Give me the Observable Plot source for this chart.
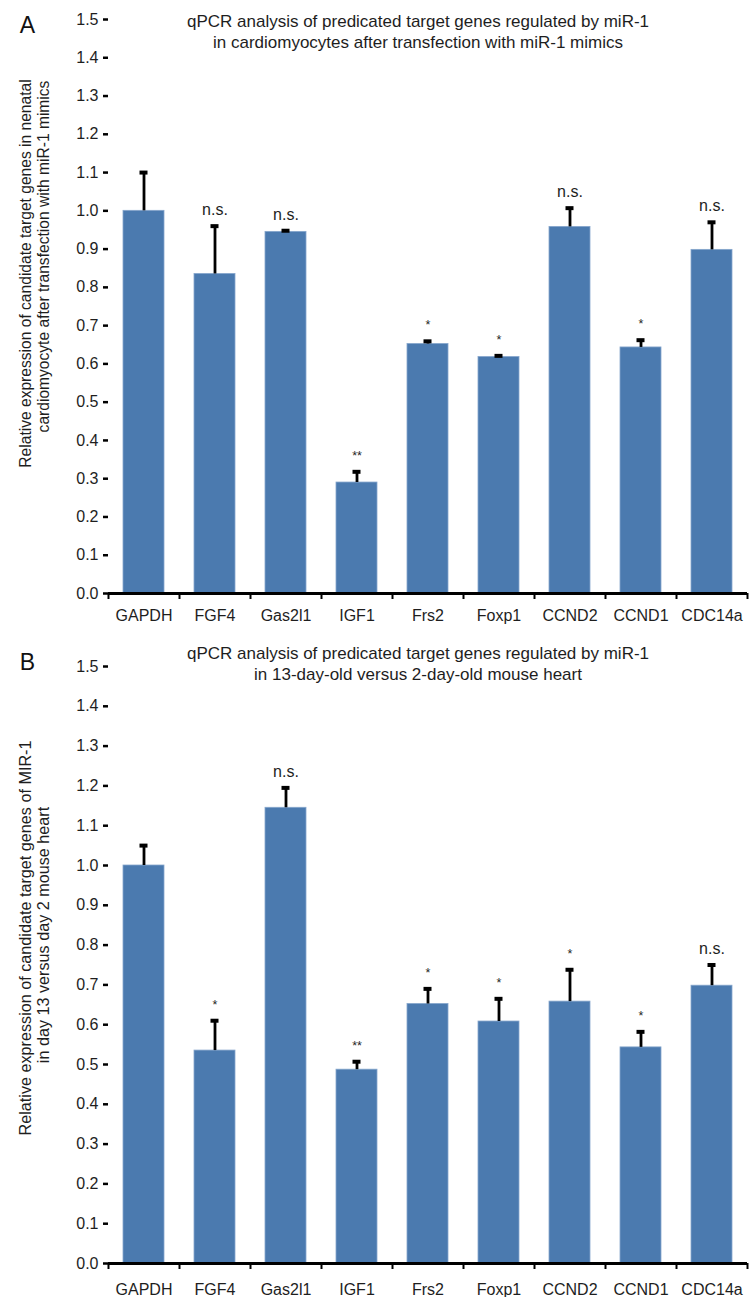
<!DOCTYPE html>
<html><head><meta charset="utf-8">
<script src="https://cdn.jsdelivr.net/npm/d3@7"></script>
<script src="https://cdn.jsdelivr.net/npm/@observablehq/plot@0.6"></script>
<style>
body{margin:0;background:#fff;}
#chart svg{display:block;}
</style>
</head><body><div id="chart"></div>
<script>
const genes = ["GAPDH","FGF4","Gas2l1","IGF1","Frs2","Foxp1","CCND2","CCND1","CDC14a"];
const yTicks = [0,0.1,0.2,0.3,0.4,0.5,0.6,0.7,0.8,0.9,1.0,1.1,1.2,1.3,1.4,1.5];

// Panel A
const valuesA = [1.0, 0.835, 0.945, 0.29, 0.652, 0.618, 0.958, 0.643, 0.898];
const errTopA = [1.1, 0.96, 0.948, 0.318, 0.659, 0.621, 1.007, 0.662, 0.97];
const sigA = ["", "n.s.", "n.s.", "**", "*", "*", "n.s.", "*", "n.s."];
const titleA = ["qPCR analysis of predicated target genes regulated by miR-1", "in cardiomyocytes after transfection with miR-1 mimics"];
const ylabelA = ["Relative expression of candidate target genes in nenatal", "cardiomyocyte after transfection with miR-1 mimics"];

// Panel B
const valuesB = [1.0, 0.535, 1.145, 0.487, 0.652, 0.608, 0.658, 0.543, 0.698];
const errTopB = [1.05, 0.61, 1.195, 0.507, 0.69, 0.665, 0.738, 0.582, 0.75];
const sigB = ["", "*", "n.s.", "**", "*", "*", "*", "*", "n.s."];
const titleB = ["qPCR analysis of predicated target genes regulated by miR-1", "in 13-day-old versus 2-day-old mouse heart"];
const ylabelB = ["Relative expression of candidate target genes of MIR-1", "in day 13 versus day 2 mouse heart"];

const W = 755, ML = 108, MR = 8;
const step = (W - ML - MR) / genes.length;
const FONT = "'Liberation Sans', Arial, Helvetica, sans-serif";
const INK = "#1e1e1e";

function panel({letter, title, ylabel, values, errs, sigs, height, marginTop, marginBottom, titleDy, letterDy, labelDy, labelSize, xPad}) {
  const data = genes.map((g, i) => ({gene: g, value: values[i], err: errs[i], sig: sigs[i]}));
  const ns = data.filter(d => d.sig === "n.s.");
  const stars = data.filter(d => d.sig && d.sig !== "n.s.");
  return Plot.plot({
    width: W, height, marginLeft: ML, marginRight: MR, marginTop, marginBottom,
    style: {fontFamily: FONT, color: INK, background: "#fff", overflow: "visible"},
    x: {domain: genes, paddingInner: 0.42, paddingOuter: 0.21, align: 0.5},
    y: {domain: [0, 1.5]},
    marks: [
      Plot.barY(data, {x: "gene", y: "value", fill: "#4b7aaf", stroke: "#86a6cc", strokeWidth: 0.8}),
      Plot.ruleX(data, {x: "gene", y1: "value", y2: "err", stroke: "#000", strokeWidth: 2.8}),
      Plot.tickY(data, {x: "gene", y: "err", stroke: "#000", strokeWidth: 4, insetLeft: 16.5, insetRight: 16.5}),
      Plot.text(ns, {x: "gene", y: "err", text: "sig", dy: -16, fontSize: 16, fill: INK}),
      Plot.text(stars, {x: "gene", y: "err", text: "sig", dy: -16, fontSize: 12.5, fill: INK}),
      Plot.axisY({ticks: yTicks, tickFormat: d3.format(".1f"), tickSize: 5, strokeWidth: 2.5, fontSize: 16, tickPadding: 5, label: null, line: true, stroke: "#000", fill: INK}),
      Plot.axisX({tickSize: 0, tickPadding: xPad, fontSize: 16, label: null, fill: INK}),
      Plot.ruleY([0], {stroke: "#000", strokeWidth: 2.8}),
      Plot.ruleX(genes, {x: d => d, dx: step / 2, y1: 0, y2: 0, insetBottom: -6, stroke: "#000", strokeWidth: 2}),
      Plot.ruleX([genes[0]], {x: d => d, dx: -step / 2, y1: 0, y2: 0, insetBottom: -6, stroke: "#000", strokeWidth: 2}),
      Plot.text([title[0]], {frameAnchor: "top", lineAnchor: "middle", text: d => d, dy: titleDy, dx: -10, fontSize: 17, fill: INK}),
      Plot.text([title[1]], {frameAnchor: "top", lineAnchor: "middle", text: d => d, dy: titleDy + 21, dx: -10, fontSize: 17, fill: INK}),
      Plot.text([letter], {frameAnchor: "top-left", lineAnchor: "middle", text: d => d, dx: -81, dy: letterDy, fontSize: 23, textAnchor: "middle", fill: "#111"}),
      Plot.text([ylabel[0]], {frameAnchor: "left", lineAnchor: "middle", text: d => d, rotate: -90, textAnchor: "middle", dx: -83, dy: labelDy[0], fontSize: labelSize, fill: INK}),
      Plot.text([ylabel[1]], {frameAnchor: "left", lineAnchor: "middle", text: d => d, rotate: -90, textAnchor: "middle", dx: -65, dy: labelDy[1], fontSize: labelSize, fill: INK})
    ]
  });
}

const root = document.getElementById("chart");
root.append(panel({letter: "A", title: titleA, ylabel: ylabelA, values: valuesA, errs: errTopA, sigs: sigA,
  height: 640, marginTop: 19, marginBottom: 47, titleDy: 2, letterDy: 6, labelDy: [-33, -50], labelSize: 15.6, xPad: 16}));
root.append(panel({letter: "B", title: titleB, ylabel: ylabelB, values: valuesB, errs: errTopB, sigs: sigB,
  height: 657, marginTop: 26, marginBottom: 34, titleDy: -13, letterDy: -4, labelDy: [-27, -30], labelSize: 16.2, xPad: 20}));
</script>
</body></html>
